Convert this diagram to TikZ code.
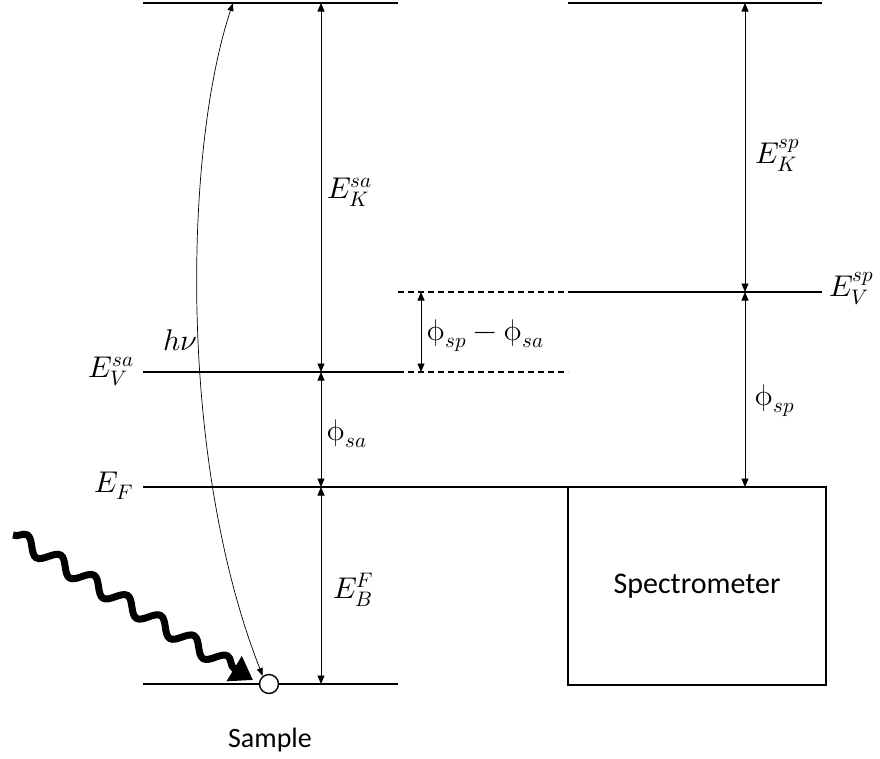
\documentclass[tikz,border=0pt]{standalone}
\usepackage{fontspec}
\usepackage{unicode-math}
\setmathfont{Latin Modern Math}
\setsansfont{Carlito}
\usetikzlibrary{arrows.meta,decorations.pathmorphing}
\begin{document}
\begin{tikzpicture}[x=1pt,y=-1pt,
  level/.style={line width=1.8pt},
  dashlevel/.style={line width=1.4pt, dash pattern=on 6pt off 4pt},
  gap/.style={line width=0.8pt, {Triangle[length=8.5pt,width=7pt]}-{Triangle[length=8.5pt,width=7pt]}},
  mlabel/.style={inner sep=0pt, font=\fontsize{30}{34}\selectfont},
  tlabel/.style={inner sep=0pt, font=\sffamily\fontsize{28}{32}\selectfont},
]
\useasboundingbox (0,0) rectangle (880,758);
% level end points
\coordinate (topL1) at (143,3);   \coordinate (topL2) at (398,3);
\coordinate (topR1) at (568,3);   \coordinate (topR2) at (822,3);
\coordinate (evsa1) at (143,372); \coordinate (evsa2) at (398,372); \coordinate (evsa3) at (568,372);
\coordinate (evsp1) at (398,292); \coordinate (evsp2) at (568,292); \coordinate (evsp3) at (822,292);
\coordinate (ef1) at (143,487);   \coordinate (ef2) at (568,487);
\coordinate (bot1) at (143,684);  \coordinate (bot2) at (398,684);
% arrow end points
\coordinate (a0) at (321,3);   \coordinate (a1) at (321,372);
\coordinate (a2) at (321,487); \coordinate (a3) at (321,684);
\coordinate (b0) at (745,3);   \coordinate (b1) at (745,292); \coordinate (b2) at (745,487);
\coordinate (m0) at (421,292); \coordinate (m1) at (421,372);
\coordinate (hvtop) at (233,3);
\coordinate (wstart) at (13,535); \coordinate (wend) at (253,680);

% levels
\draw[level] (topL1) -- (topL2);
\draw[level] (topR1) -- (topR2);
\draw[level] (evsa1) -- (evsa2);
\draw[dashlevel] (evsa2) -- (evsa3);
\draw[dashlevel] (evsp1) -- (evsp2);
\draw[level] (evsp2) -- (evsp3);
\draw[level] (ef1) -- (ef2);
\draw[level] (bot1) -- (bot2);
\node[draw, line width=1.6pt, minimum width=258pt, minimum height=198pt, inner sep=0pt,
  font=\sffamily\fontsize{30}{34}\selectfont] (spec) at (697,586) {Spectrometer};

% gap arrows
\draw[gap] (a0) -- (a1);
\draw[gap] (a1) -- (a2);
\draw[gap] (a2) -- (a3);
\draw[gap] (b0) -- (b1);
\draw[gap] (b1) -- (b2);
\draw[gap] (m0) -- (m1);

% sample point
\node[draw, circle, fill=white, line width=1.4pt, minimum size=19pt, inner sep=0pt] (c) at (269,684) {};

% photon
\draw[line width=0.7pt, {Triangle[length=8pt,width=6pt]}-{Triangle[length=8pt,width=6pt]}]
  (c.128) .. controls (178,460) and (184,150) .. (hvtop);
\draw[line width=7pt, decorate,
  decoration={snake, amplitude=7.5pt, segment length=39pt, post length=16pt},
  -{Triangle[length=22pt,width=28pt]}] (wstart) -- (wend);

% labels
\node[mlabel, anchor=base west] (hv) at (163,350) {$h\nu$};
\node[mlabel, anchor=base east] (levsa) at (134,377) {$E_V^{sa}$};
\node[mlabel, anchor=base east] (lef) at (134,492) {$E_F$};
\node[mlabel, anchor=base west] (leksa) at (327,198) {$E_K^{sa}$};
\node[mlabel, anchor=base west] (lphisa) at (326,440) {$\upphi_{sa}$};
\node[mlabel, anchor=base west] (lebf) at (333,598) {$E_B^{F}$};
\node[mlabel, anchor=base west] (ldiff) at (426,340) {$\upphi_{sp}-\upphi_{sa}$};
\node[mlabel, anchor=base west] (leksp) at (755,163) {$E_K^{sp}$};
\node[mlabel, anchor=base west] (levsp) at (829,296) {$E_V^{sp}$};
\node[mlabel, anchor=base west] (lphisp) at (754,405) {$\upphi_{sp}$};
\node[tlabel] (lsample) at (270,740) {Sample};
\end{tikzpicture}
\end{document}
